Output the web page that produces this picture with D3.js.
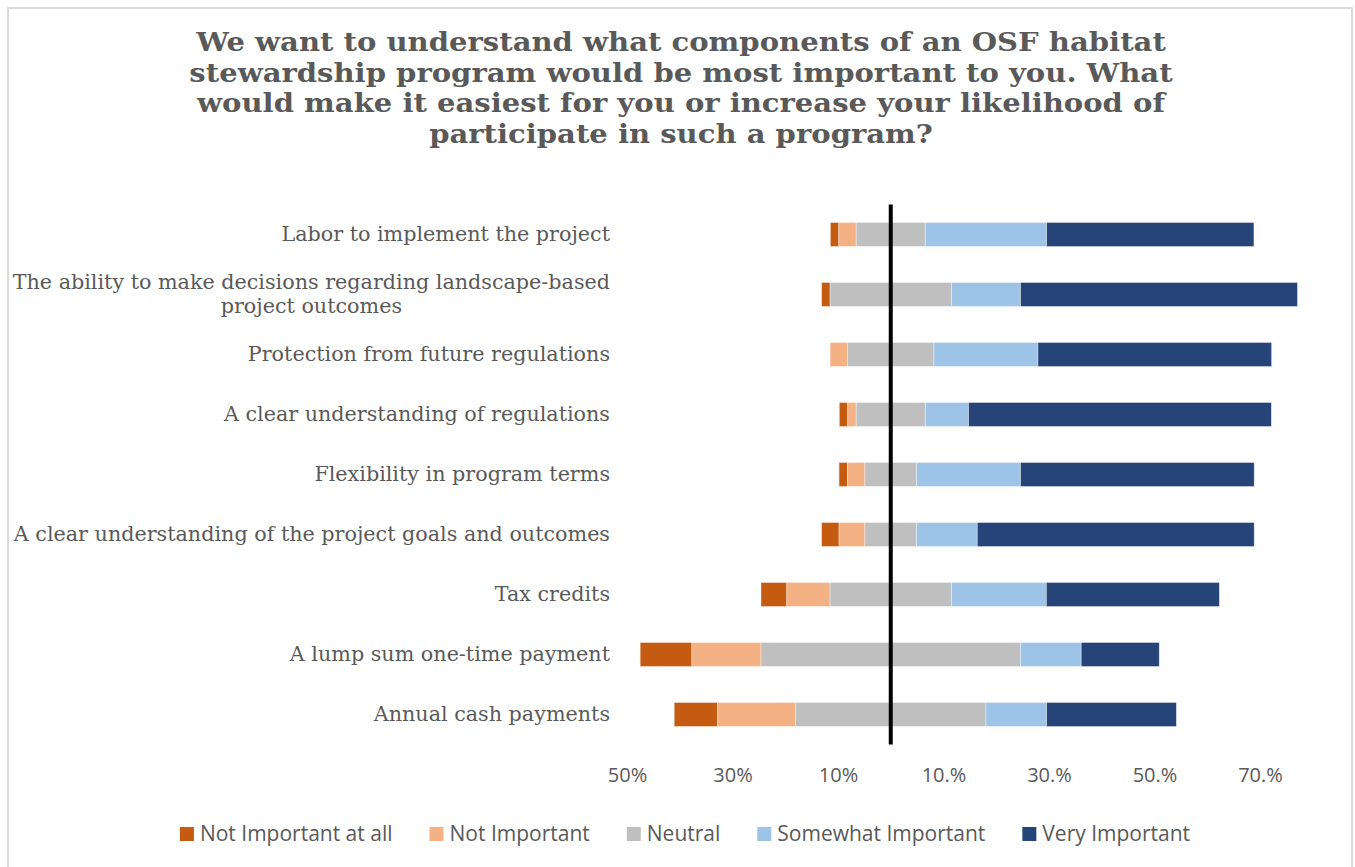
<!DOCTYPE html>
<html>
<head>
<meta charset="utf-8">
<script src="https://cdn.jsdelivr.net/npm/d3@7"></script>
<style>
  html, body { margin: 0; padding: 0; background: #fff; }
  svg { display: block; }
</style>
</head>
<body>
<svg id="chart" width="1355" height="867"></svg>
<script>
// Survey items, listed top to bottom
const categories = [
  "Labor to implement the project",
  "The ability to make decisions regarding landscape-based|project outcomes",
  "Protection from future regulations",
  "A clear understanding of regulations",
  "Flexibility in program terms",
  "A clear understanding of the project goals and outcomes",
  "Tax credits",
  "A lump sum one-time payment",
  "Annual cash payments"
];

// Share of respondents (%) for each answer
const notImportantAtAll = [1.6, 1.6, 0.0, 1.6, 1.6, 3.3, 4.9, 9.8, 8.2];
const notImportant      = [3.3, 0.0, 3.3, 1.6, 3.3, 4.9, 8.2, 13.1, 14.8];
const neutral           = [13.1, 23.0, 16.4, 13.1, 9.8, 9.8, 23.0, 49.2, 36.1];
const somewhatImportant = [23.0, 13.1, 19.7, 8.2, 19.7, 11.5, 18.0, 11.5, 11.5];
const veryImportant     = [39.3, 52.5, 44.3, 57.4, 44.3, 52.5, 32.8, 14.8, 24.6];

const seriesNames = ["Not Important at all", "Not Important", "Neutral", "Somewhat Important", "Very Important"];
const seriesColors = ["#C55A11", "#F4B183", "#BFBFBF", "#9DC3E6", "#264478"];

const tickValues = [-50, -30, -10, 10, 30, 50, 70];
const tickLabels = ["50%", "30%", "10%", "10.%", "30.%", "50.%", "70.%"];

const titleLines = [
  "We want to understand what components of an OSF habitat",
  "stewardship program would be most important to you. What",
  "would make it easiest for you or increase your likelihood of",
  "participate in such a program?"
];

const textGray = "#595959";
const serif = "'DejaVu Serif', Georgia, serif";
const sans = "'Open Sans', 'Noto Sans', sans-serif";

const svg = d3.select("#chart");

// chart frame
svg.append("rect")
  .attr("x", 8).attr("y", 8)
  .attr("width", 1344).attr("height", 880)
  .attr("fill", "#fff")
  .attr("stroke", "#d9d9d9")
  .attr("stroke-width", 2);

// title, one text element per line, set slightly wide
svg.append("g")
  .attr("text-anchor", "middle")
  .attr("font-family", serif)
  .attr("font-weight", "bold")
  .attr("font-size", 26.2)
  .attr("fill", textGray)
  .selectAll("text")
  .data(titleLines)
  .join("text")
  .attr("transform", (d, i) => `translate(681,${51 + i * 30.5}) scale(1.11,1)`)
  .text(d => d);

// scales
const x = d3.scaleLinear().domain([-50, 70]).range([627, 1260]);
const y = d3.scaleBand().domain(categories).range([204.5, 744.5])
  .paddingInner(0.6).paddingOuter(0.3);

// diverging stacks: neutral is split evenly around zero
const series = [notImportantAtAll, notImportant, neutral, somewhatImportant, veryImportant];
const segments = [];
categories.forEach((cat, i) => {
  let start = -(notImportantAtAll[i] + notImportant[i] + neutral[i] / 2);
  series.forEach((vals, s) => {
    const v = vals[i];
    segments.push({ cat, s, x0: start, x1: start + v, v });
    start += v;
  });
});

svg.append("g")
  .selectAll("rect")
  .data(segments.filter(d => d.v > 0))
  .join("rect")
  .attr("x", d => x(d.x0))
  .attr("width", d => x(d.x1) - x(d.x0))
  .attr("y", d => y(d.cat))
  .attr("height", y.bandwidth())
  .attr("fill", d => seriesColors[d.s])
  .attr("stroke", "#ffffff")
  .attr("stroke-opacity", 0.5)
  .attr("stroke-width", 0.75);

// zero axis line
svg.append("line")
  .attr("x1", x(0)).attr("x2", x(0))
  .attr("y1", 204.5).attr("y2", 744.5)
  .attr("stroke", "#000")
  .attr("stroke-width", 4);

// x axis labels
const xAxis = d3.axisBottom(x)
  .tickValues(tickValues)
  .tickFormat((d, i) => tickLabels[i])
  .tickSize(0)
  .tickPadding(0);
const gx = svg.append("g")
  .attr("transform", "translate(0,768)")
  .call(xAxis);
gx.select(".domain").remove();
gx.selectAll("text")
  .attr("font-family", sans)
  .attr("font-size", 20)
  .attr("fill", textGray)
  .attr("dy", "0.71em")
  .attr("y", 0);

// category labels (right aligned block, lines centred within)
const labelRight = 610;
const labelFont = 20.7;
const labelG = svg.append("g")
  .attr("font-family", serif)
  .attr("font-size", labelFont)
  .attr("fill", textGray);
categories.forEach(cat => {
  const lines = cat.split("|");
  const cy = y(cat) + y.bandwidth() / 2;
  const t = labelG.append("text").attr("text-anchor", "middle");
  const spans = t.selectAll("tspan").data(lines).join("tspan")
    .attr("y", (d, i) => cy - 1 + (i - (lines.length - 1) / 2) * 24.4)
    .attr("dy", "0.35em")
    .text(d => d);
  const w = d3.max(spans.nodes(), n => n.getComputedTextLength());
  spans.attr("x", labelRight - w / 2);
});

// legend
const legend = svg.append("g")
  .attr("font-family", sans)
  .attr("font-size", 21)
  .attr("fill", textGray);
const items = legend.selectAll("g").data(seriesNames).join("g");
items.append("rect")
  .attr("width", 14).attr("height", 14)
  .attr("y", 827)
  .attr("fill", (d, i) => seriesColors[i]);
items.append("text")
  .attr("x", 20)
  .attr("y", 834)
  .attr("dy", "0.35em")
  .text(d => d);
let lx = 0;
const offsets = [];
items.each(function () {
  offsets.push(lx);
  const w = d3.select(this).select("text").node().getComputedTextLength();
  lx += 20 + w + 37;
});
const total = lx - 37;
const startX = 685 - total / 2;
items.attr("transform", (d, i) => `translate(${startX + offsets[i]},0)`);
</script>
</body>
</html>
